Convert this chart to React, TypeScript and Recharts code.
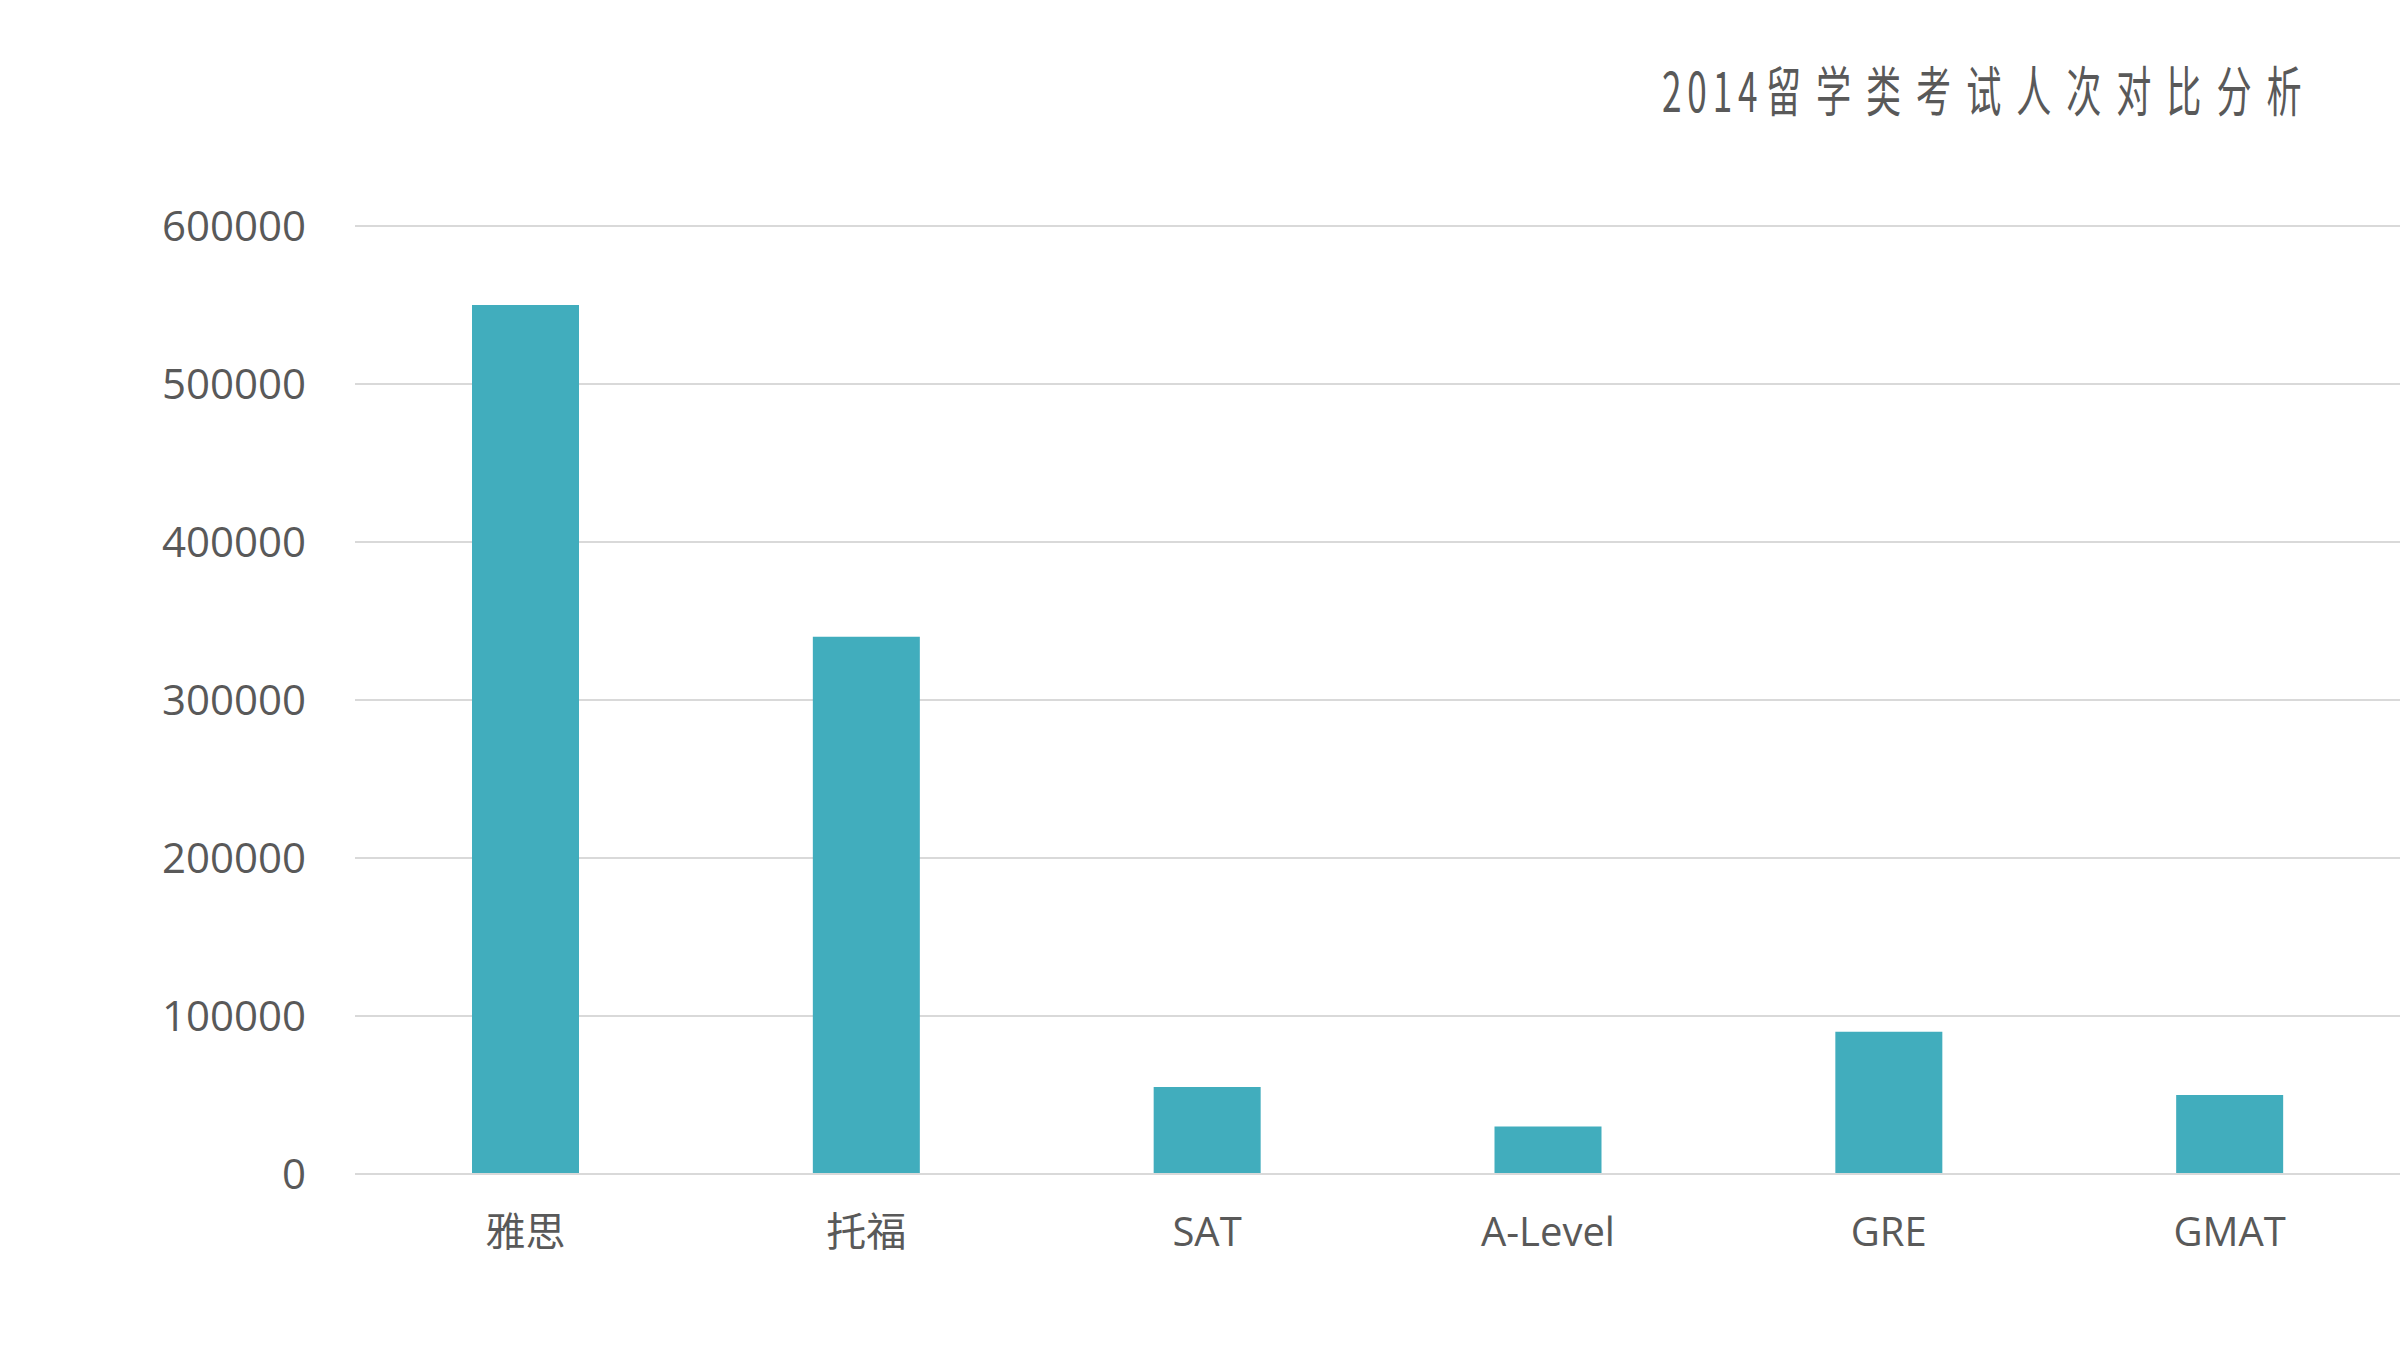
import React from 'react';
import { BarChart, Bar, XAxis, YAxis, CartesianGrid } from 'recharts';

// 考试类别与人次
const exams = ['雅思', '托福', 'SAT', 'A-Level', 'GRE', 'GMAT'];
const counts = [550000, 340000, 55000, 30000, 90000, 50000];
const yTicks = [0, 100000, 200000, 300000, 400000, 500000, 600000];

const titleYear = '2014';
const titleText = '留学类考试人次对比分析';

const data = exams.map((name, i) => ({ name, value: counts[i] }));

const TEXT = '#595959';
const GRID = '#D9D9D9';
const BAR = '#41ADBD';

export default function App() {
    return (
        <div style={{ position: 'absolute', left: 0, top: 0, width: 2400, height: 1350, background: '#fff', overflow: 'hidden' }}>
            <div
                style={{
                    position: 'absolute', left: 1662, top: 57, whiteSpace: 'nowrap',
                    fontFamily: '"Noto Sans CJK SC", sans-serif', fontSize: 54, lineHeight: '64px',
                    color: TEXT, transform: 'scaleX(0.65)', transformOrigin: 'left top',
                }}
            >
                <span style={{ letterSpacing: 9 }}>{titleYear}</span>
                <span style={{ letterSpacing: 23, marginLeft: 4 }}>{titleText}</span>
            </div>
            <BarChart width={2400} height={1350} data={data} margin={{ top: 226, right: 0, bottom: 146, left: 0 }}>
                <CartesianGrid vertical={false} stroke={GRID} strokeWidth={2} />
                <XAxis
                    dataKey="name"
                    axisLine={{ stroke: GRID, strokeWidth: 2 }}
                    tickLine={false}
                    tickMargin={38}
                    tick={{ fill: TEXT, fontSize: 40, fontFamily: '"Open Sans", "Noto Sans CJK SC", sans-serif' }}
                    interval={0}
                />
                <YAxis
                    width={355}
                    domain={[0, 600000]}
                    ticks={yTicks}
                    axisLine={false}
                    tickLine={false}
                    tickSize={0}
                    tickMargin={49}
                    tick={{ fill: TEXT, fontSize: 42, fontFamily: '"Open Sans", sans-serif' }}
                />
                <Bar dataKey="value" fill={BAR} barSize={107} isAnimationActive={false} />
            </BarChart>
        </div>
    );
}
